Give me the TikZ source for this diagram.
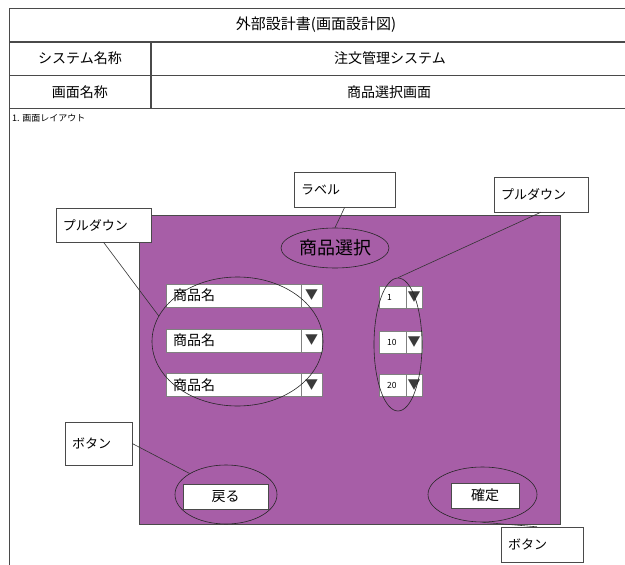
\documentclass[tikz,border=0pt]{standalone}
\usepackage{fontspec}
\setmainfont{Noto Sans CJK JP}
\usetikzlibrary{calc,shapes.geometric}
\definecolor{screen}{HTML}{A75EA7}
\definecolor{rule}{HTML}{4A4A4A}
\definecolor{tri}{HTML}{3A3A3A}

\begin{document}
\begin{tikzpicture}[x=1pt, y=-1pt,
	cell/.style={font=\fontsize{14}{16}\selectfont, inner sep=0},
	callout/.style={draw=rule, fill=white, inner xsep=7, inner ysep=0, text width=#1, align=left, minimum height=35, font=\fontsize{13}{15}\selectfont},
	ring/.style={ellipse, draw=black!85, line width=0.6, inner sep=0},
	ddname/.style={draw=gray, fill=white, anchor=west, minimum height=23, inner xsep=7, inner ysep=0, text width=142, align=left, font=\fontsize{14}{16}\selectfont},
	ddnum/.style={draw=gray, fill=white, anchor=west, minimum height=22, inner xsep=8, inner ysep=0, text width=27, align=left, font=\fontsize{8.5}{10}\selectfont},
	ddarrow/.style={draw=gray, fill=white, anchor=east, minimum width=#1, inner sep=0, text=tri, font=\fontsize{13}{15}\selectfont},
	btn/.style={draw=rule, fill=white, minimum height=25, inner sep=0, font=\fontsize{14}{16}\selectfont},
	link/.style={draw=black!80, line width=0.6}]
	\useasboundingbox (0,0) rectangle (625,565);
	% table frame
	\draw [rule, line width=1.2] (625,8.5) -- (9.5,8.5) -- (9.5,565);
	\draw [rule, line width=1.2] (9.5,42) -- (625,42);
	\draw [rule, line width=1.2] (9.5,75.5) -- (625,75.5);
	\draw [rule, line width=1.2] (9.5,108.5) -- (625,108.5);
	\draw [rule, line width=1.2] (151,42) -- (151,108.5);
	\node [cell, font=\fontsize{15}{17}\selectfont] (title) at (316,25) {外部設計書(画面設計図)};
	\node [cell] (syshead) at (80,58.5) {システム名称};
	\node [cell] (sysname) at (390,58.5) {注文管理システム};
	\node [cell] (scrhead) at (80,92) {画面名称};
	\node [cell] (scrname) at (389,92) {商品選択画面};
	\node [inner sep=0, anchor=west, font=\fontsize{9}{10}\selectfont] (layout) at (12,118) {1. 画面レイアウト};

	% screen
	\fill [screen, draw=rule, line width=0.8] (139,215) rectangle (560,524);
	\node [ring, minimum width=108, minimum height=40, font=\fontsize{18}{20}\selectfont] (seltitle) at (335,248) {商品選択};

	\node [ddname] (item1) at (166,295.5) {商品名};
	\node [ddarrow=21, minimum height=23] (arr1) at (item1.east) {▼};
	\node [ddname] (item2) at (166,340.5) {商品名};
	\node [ddarrow=21, minimum height=23] (arr2) at (item2.east) {▼};
	\node [ddname] (item3) at (166,385) {商品名};
	\node [ddarrow=21, minimum height=23] (arr3) at (item3.east) {▼};

	\node [ddnum] (qty1) at (379,297) {1};
	\node [ddarrow=16, minimum height=22] (qarr1) at (qty1.east) {▼};
	\node [ddnum] (qty2) at (379,342.5) {10};
	\node [ddarrow=16, minimum height=22] (qarr2) at (qty2.east) {▼};
	\node [ddnum] (qty3) at (379,385.5) {20};
	\node [ddarrow=16, minimum height=22] (qarr3) at (qty3.east) {▼};

	\node [btn, minimum width=85] (back) at (225.5,496.5) {戻る};
	\node [btn, minimum width=68] (ok) at (485,495.5) {確定};

	\node [ring, minimum width=171, minimum height=129] (itemring) at (237.5,341.5) {};
	\node [ring, minimum width=48, minimum height=133] (qtyring) at (398,344.5) {};
	\node [ring, minimum width=102, minimum height=59] (backring) at (226,494.5) {};
	\node [ring, minimum width=109, minimum height=55] (okring) at (482.5,494.5) {};

	% callouts
	\node [callout=87] (lblnote) at (344.5,190) {ラベル};
	\node [callout=81, minimum height=34] (itemnote) at (103.5,225) {プルダウン};
	\node [callout=80] (qtynote) at (541,194.5) {プルダウン};
	\node [callout=53, minimum height=43] (backnote) at (98.5,443.5) {ボタン};
	\node [callout=68] (oknote) at (542,544.5) {ボタン};

	\draw [link] (lblnote.south) -- (seltitle.north);
	\draw [link] (itemnote.south) -- (itemring.162);
	\draw [link] (qtynote.south) -- (qtyring.north);
	\draw [link] (backnote.east) -- (backring.150);
	\draw [link] (okring.south) -- ($(oknote.north)+(-5,0)$);
\end{tikzpicture}
\end{document}
